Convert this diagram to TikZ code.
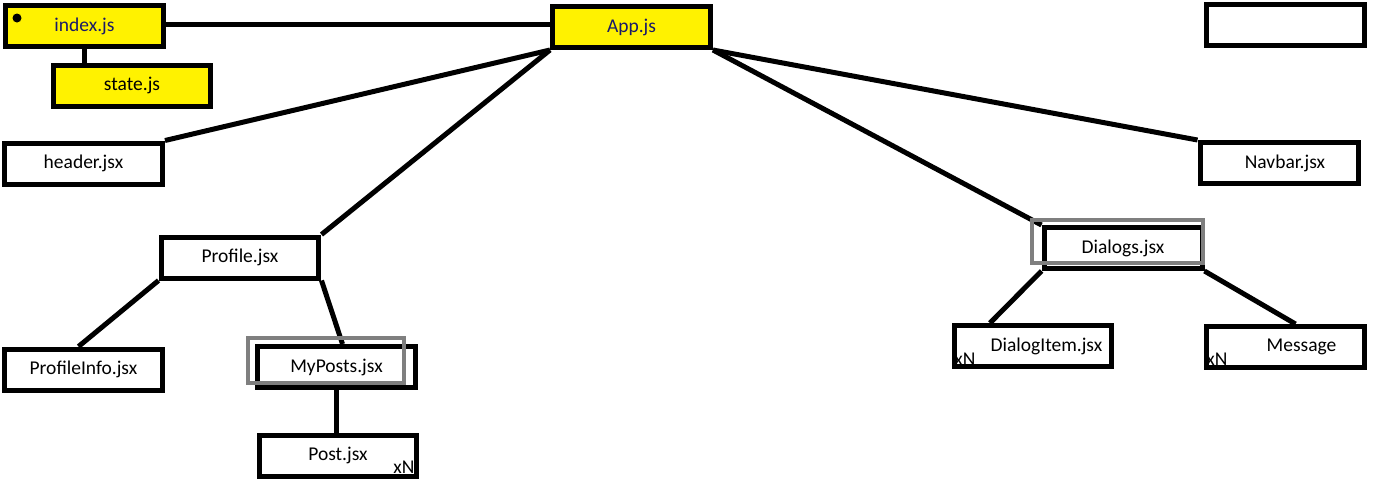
\documentclass[tikz,border=0pt]{standalone}
\usepackage{fontspec}
\setmainfont{Carlito}
\usetikzlibrary{calc}

\definecolor{paintyellow}{RGB}{255,242,0}
\definecolor{framegray}{RGB}{127,127,127}
\definecolor{jsnavy}{RGB}{25,25,105}

\tikzset{
  filebox/.style={draw, line width=0.1cm, inner sep=0pt,
    minimum width=3.16cm, minimum height=0.82cm,
    font=\fontsize{11.1}{13}\selectfont},
  rootbox/.style={filebox, fill=paintyellow, text=jsnavy},
  hilite/.style={draw=framegray, line width=0.08cm, inner sep=0pt},
  link/.style={line width=0.1cm},
  multi/.style={inner sep=0pt, font=\fontsize{11.1}{13}\selectfont}
}

\begin{document}
\begin{tikzpicture}[x=0.02cm,y=-0.02cm]
\useasboundingbox (0,0) rectangle (1379,495);

% Entry files
\node[rootbox] (index) at (84.5,26) {index.js};
\node[rootbox, text=black] (state) at (132,85.5) {state.js};
\node[rootbox] (app) at (631.5,27) {App.js};
\fill (17,18) circle (4.5);

% Empty box
\node[filebox] (blank) at (1285,25) {};

% ---- Top level components ----
\node[filebox] (header) at (83.5,163.5) {header.jsx};
\node[filebox] (navbar) at (1279,163) {\hspace*{0.24cm}Navbar.jsx};
\node[filebox] (profile) at (240,257.5) {Profile.jsx};
\node[filebox] (dialogs) at (1123,248) {Dialogs.jsx};

% ---- Profile branch ----
\node[filebox] (profinfo) at (83.5,369.5) {ProfileInfo.jsx};
\node[filebox] (myposts) at (336.5,367) {MyPosts.jsx};
\node[filebox] (post) at (338,455.5) {Post.jsx};
\node[multi] (postn) at (404,467.5) {xN};

% ---- Dialogs branch ----
\node[filebox] (ditem) at (1033,346) {\hspace*{0.54cm}DialogItem.jsx};
\node[multi] (ditemn) at (965,359) {xN};
\node[filebox] (message) at (1285.5,347) {\hspace*{0.64cm}Message};
\node[multi] (messagen) at (1217,359) {xN};

% Links
\draw[link] ([yshift=0.04cm]index.east) -- ([yshift=0.04cm]index.east -| app.west);
\draw[link] (index.south) -- (index.south |- state.north);
\draw[link] (header.north east) -- (app.south west);
\draw[link] (profile.north east) -- (app.south west);
\draw[link] (app.south east) -- (navbar.north west);
\draw[link] (app.south east) -- (dialogs.north west);
\draw[link] (profile.south west) -- ($(profinfo.north)+(-5,0)$);
\draw[link] (profile.south east) -- ($(myposts.north)+(6,0)$);
\draw[link] (myposts.south) -- (myposts.south |- post.north);
\draw[link] (dialogs.south west) -- ($(ditem.north)+(-43,0)$);
\draw[link] (dialogs.south east) -- ($(message.north)+(10,0)$);

% Grey highlight frames
\node[hilite, minimum width=3.42cm, minimum height=0.86cm] (dlgframe) at (1117.5,241.5) {};
\node[hilite, minimum width=3.12cm, minimum height=0.9cm] (postsframe) at (326,360.5) {};

\end{tikzpicture}
\end{document}
